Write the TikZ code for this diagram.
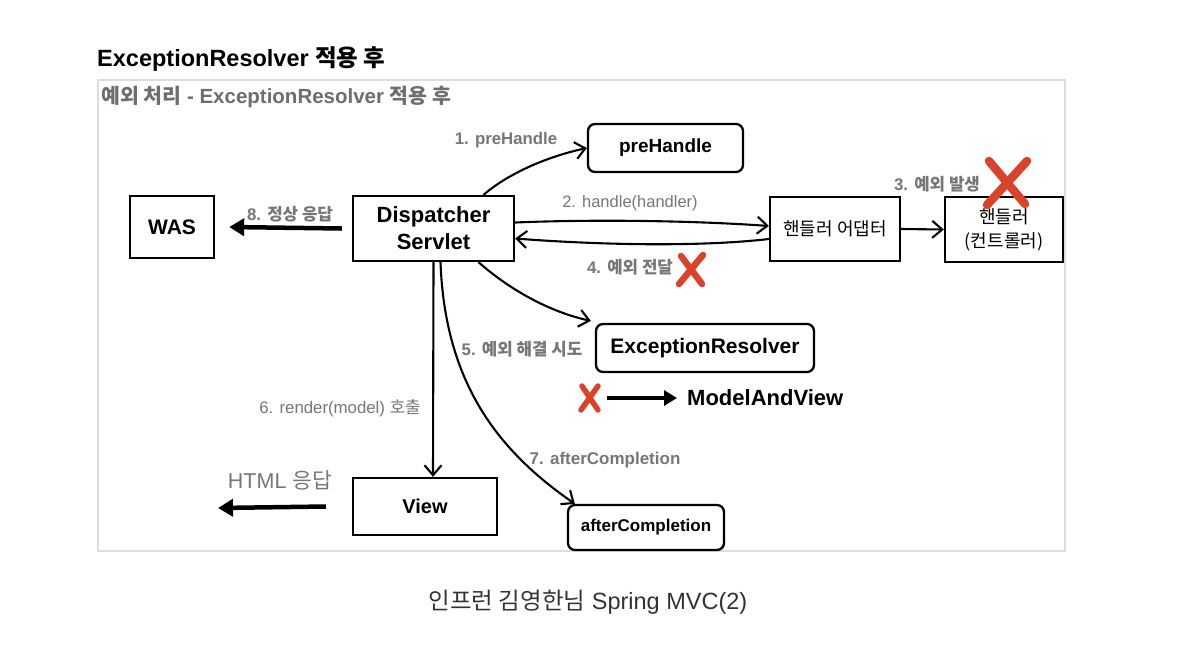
\documentclass[tikz,border=0pt]{standalone}
\usepackage{fontspec}
\setmainfont{Liberation Sans}
\newfontfamily\kr{Noto Sans CJK KR}
\usetikzlibrary{arrows.meta}
\definecolor{lbl}{HTML}{777777}
\definecolor{sub}{HTML}{6E6E6E}
\definecolor{xred}{HTML}{D9432B}
\definecolor{frame}{HTML}{DDDDDD}
\tikzset{
  box/.style={draw=black, line width=2.3pt, inner sep=0pt, align=center, font=\fontsize{20}{23}\selectfont\bfseries},
  rbox/.style={box, rounded corners=7pt},
  lab/.style={text=lbl, inner sep=0pt, font=\fontsize{16.8}{19}\selectfont\bfseries},
  conn/.style={line width=2.1pt, -{Straight Barb[length=10pt,width=17pt,line width=2.1pt]}},
  thick arrow/.style={line width=4.5pt, -{Triangle[length=15pt,width=17pt]}},
  redx/.style={xred, line width=#1, line cap=round},
}
\begin{document}
\begin{tikzpicture}[x=1pt,y=-1pt]
\useasboundingbox (0,0) rectangle (1178,654);
\fill[white] (0,0) rectangle (1178,654);
% frame
\draw[frame, line width=1.2pt] (98,80) rectangle (1065,551);
% titles
\node[anchor=west, inner sep=0pt, font=\fontsize{23.5}{26}\selectfont\bfseries] (title) at (97,59) {ExceptionResolver {\kr 적용 후}};
\node[anchor=west, inner sep=0pt, text=sub, font=\fontsize{20.5}{24}\selectfont\bfseries] (subtitle) at (101,97) {{\kr 예외 처리} - ExceptionResolver {\kr 적용 후}};
% boxes
\node[box, minimum width=84pt, minimum height=62pt, font=\fontsize{21}{24}\selectfont\bfseries] (was) at (172,227) {WAS};
\node[box, minimum width=161pt, minimum height=65pt, font=\fontsize{22}{27}\selectfont\bfseries] (ds) at (433.5,228.5) {Dispatcher\\Servlet};
\node[rbox, minimum width=155pt, minimum height=48pt, font=\fontsize{19}{22}\selectfont\bfseries] (pre) at (665.5,148) {preHandle};
\node[box, minimum width=130pt, minimum height=64pt, font=\fontsize{18}{22}\selectfont\kr] (ad) at (835,229) {핸들러 어댑터};
\node[box, minimum width=118pt, minimum height=65pt, font=\fontsize{18}{24}\selectfont\kr] (hd) at (1004,229.5) {핸들러\\(컨트롤러)};
\node[rbox, minimum width=218pt, minimum height=48pt, font=\fontsize{21}{24}\selectfont\bfseries] (er) at (705,348) {ExceptionResolver};
\node[box, minimum width=144pt, minimum height=57pt] (view) at (425,506.5) {View};
\node[rbox, minimum width=156pt, minimum height=45pt, font=\fontsize{17}{20}\selectfont\bfseries] (ac) at (646,527.5) {afterCompletion};
\node[anchor=west, inner sep=0pt, font=\fontsize{22}{25}\selectfont\bfseries] (mav) at (687,398) {ModelAndView};
% connectors
\draw[conn] ([xshift=50pt]ds.north) .. controls (510,172) and (550,156) .. ([yshift=0pt]pre.west);
\draw[conn] ([yshift=6pt]ds.east) .. controls (600,219) and (700,221) .. ([yshift=3pt]ad.west);
\draw[conn] ([yshift=-10pt]ad.west) .. controls (700,247) and (600,245) .. ([yshift=-10pt]ds.east);
\draw[conn] (ad.east) -- (hd.west);
\draw[conn] ([xshift=45pt]ds.south) .. controls (510,290) and (550,312) .. ([xshift=-4pt,yshift=2pt]er.north west);
\draw[conn] ([xshift=0pt]ds.south) -- ([xshift=8pt]view.north);
\draw[conn] ([xshift=7pt]ds.south) .. controls (445,385) and (500,452) .. ([xshift=8pt]ac.north west);
\coordinate (wasend) at ([xshift=14pt]was.east);
\draw[thick arrow] ([xshift=-10pt]ds.west) -- (wasend);
\coordinate (htmlend) at (218,508);
\draw[thick arrow] ([xshift=-26pt]view.west) -- (htmlend);
\coordinate (mavstart) at (607,398);
\draw[line width=3.2pt, -{Triangle[length=13pt,width=15pt]}] (mavstart) -- ([xshift=-10pt]mav.west);
% labels
\node[lab] (l1) at (506,140) {1. preHandle};
\node[lab, font=\fontsize{16.5}{19}\selectfont] (l2) at (630,203) {2. handle(handler)};
\node[lab] (l3) at (937,184) {3. {\kr 예외 발생}};
\node[lab] (l4) at (630,267) {4. {\kr 예외 전달}};
\node[lab] (l5) at (522,349) {5. {\kr 예외 해결 시도}};
\node[lab, font=\fontsize{16.8}{19}\selectfont] (l6) at (340,408) {6. render(model) {\kr 호출}};
\node[lab, font=\fontsize{17}{20}\selectfont\bfseries] (l7) at (605,460) {7. afterCompletion};
\node[lab] (l8) at (290,214) {8. {\kr 정상 응답}};
\node[inner sep=0pt, text=lbl, font=\fontsize{21.5}{24}\selectfont] (html) at (280,480) {HTML {\kr 응답}};
% red crosses
\draw[redx=8.5pt] (989,161) -- (1025,204) (1027,161) -- (987,205);
\draw[redx=6.5pt] (681,256) -- (702,284) (703,255) -- (679,284);
\draw[redx=5.5pt] (582,386) -- (598,410) (598,386) -- (581,410);
% caption
\node[inner sep=0pt, text=black!80, font=\fontsize{23.5}{27}\selectfont] (cap) at (588,602) {{\kr 인프런 김영한님} Spring MVC(2)};
\end{tikzpicture}
\end{document}
